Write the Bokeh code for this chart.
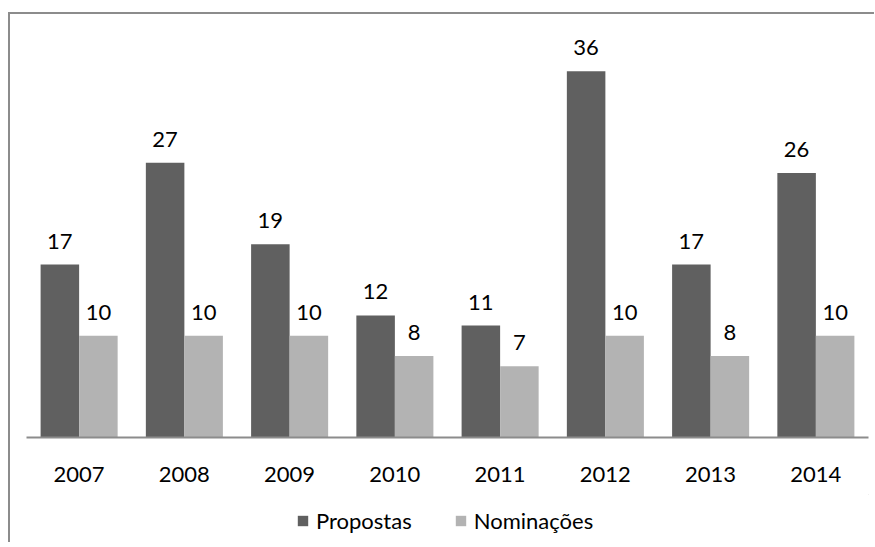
from bokeh.plotting import figure
from bokeh.layouts import column
from bokeh.models import ColumnDataSource, FactorRange, Range1d, Legend, LegendItem
from bokeh.transform import dodge
from bokeh.core.properties import value
from bokeh.embed import file_html
from bokeh.resources import INLINE

years = ["2007", "2008", "2009", "2010", "2011", "2012", "2013", "2014"]
propostas = [17, 27, 19, 12, 11, 36, 17, 26]
nominacoes = [10, 10, 10, 8, 7, 10, 8, 10]
series_names = ["Propostas", "Nominações"]

DARK = "#606060"
LIGHT = "#b3b3b3"
FONT = "Lato"
W_FIG = 864

src = ColumnDataSource(dict(
    year=years,
    prop=propostas,
    nom=nominacoes,
    prop_lbl=[str(v) for v in propostas],
    nom_lbl=[str(v) for v in nominacoes],
))

p = figure(width=W_FIG, height=480, x_range=FactorRange(*years), y_range=Range1d(0, 40),
           output_backend="svg", toolbar_location=None, y_axis_location=None,
           min_border_left=16, min_border_right=6, min_border_top=16, min_border_bottom=57)
p.outline_line_color = None
p.xgrid.grid_line_color = None
p.ygrid.grid_line_color = None
p.background_fill_color = "white"
p.border_fill_color = "white"

ax = p.xaxis[0]
ax.axis_line_color = "#8c8c8c"
ax.axis_line_width = 2
ax.major_tick_line_color = None
ax.minor_tick_line_color = None
ax.major_label_text_font = FONT
ax.major_label_text_font_size = "22px"
ax.major_label_text_color = "black"
ax.major_label_standoff = 23

OFF = 0.183
W = 0.366
r1 = p.vbar(x=dodge("year", -OFF, range=p.x_range), top="prop", width=W, source=src,
            fill_color=DARK, line_color=None)
r2 = p.vbar(x=dodge("year", OFF, range=p.x_range), top="nom", width=W, source=src,
            fill_color=LIGHT, line_color=None)

for col, lbl, off in (("prop", "prop_lbl", -OFF), ("nom", "nom_lbl", OFF)):
    p.text(x=dodge("year", off, range=p.x_range), y=col, text=lbl, source=src,
           text_align="center", text_baseline="bottom", y_offset=-16,
           text_font=value(FONT), text_font_size="22px", text_color="black")

# legend strip below the chart
lf = figure(width=W_FIG, height=48, x_range=Range1d(0, 1), y_range=Range1d(0, 1),
            output_backend="svg", toolbar_location=None,
            x_axis_location=None, y_axis_location=None,
            min_border=0, min_border_left=0, min_border_right=0,
            min_border_top=0, min_border_bottom=0)
lf.outline_line_color = None
lf.xgrid.grid_line_color = None
lf.ygrid.grid_line_color = None
lf.background_fill_color = "white"
lf.border_fill_color = "white"
# legend swatches (placed outside the visible range)
lr1 = lf.vbar(x=[5], top=[5], bottom=[4], width=0.1, fill_color=DARK, line_color=None)
lr2 = lf.vbar(x=[5], top=[5], bottom=[4], width=0.1, fill_color=LIGHT, line_color=None)

legend = Legend(items=[LegendItem(label=series_names[0], renderers=[lr1]),
                       LegendItem(label=series_names[1], renderers=[lr2])],
                orientation="horizontal", location=(270, 8),
                padding=0, margin=0, spacing=42, label_standoff=7,
                glyph_width=13, glyph_height=13,
                label_text_font=FONT, label_text_font_size="22px", label_text_color="black",
                border_line_color=None, background_fill_alpha=0)
lf.add_layout(legend, "center")

layout = column(p, lf, spacing=0)
layout.styles = {"border-left": "2px solid #8c8c8c", "border-top": "2px solid #8c8c8c",
                 "position": "absolute", "top": "12px", "left": "8px"}

open("out.html", "w").write(file_html(layout, INLINE))
